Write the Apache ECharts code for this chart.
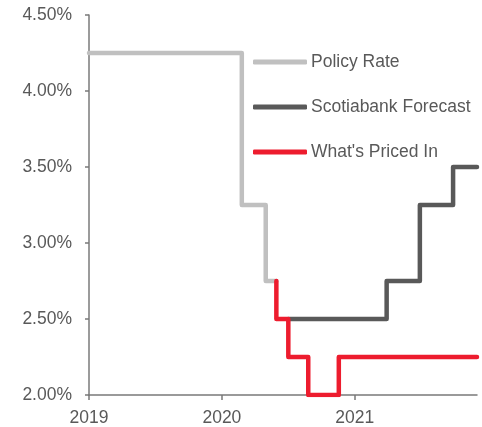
<!DOCTYPE html>
<html>
    <head>
        <meta charset="utf-8">
        <script src="https://cdn.jsdelivr.net/npm/echarts@6/dist/echarts.min.js"></script>
        <style>
            body {
                margin: 0;
                background: #fff;
            }
            #main {
                width: 482px;
                height: 427px;
            }
        </style>
    </head>
    <body>
        <div id="main"></div>

        <script>
        // x values are decimal years; each point is where a new rate level begins
        const policyRate = [[2019, 4.25], [2020.15, 3.25], [2020.33, 2.75], [2020.41, 2.75]];
        const scotiaForecast = [[2020.5, 2.50], [2021.24, 2.75], [2021.49, 3.25], [2021.74, 3.50], [2021.92, 3.50]];
        const pricedIn = [[2020.41, 2.75], [2020.41, 2.50], [2020.5, 2.25], [2020.65, 2.00], [2020.88, 2.25], [2021.92, 2.25]];
        const seriesNames = ['Policy Rate', 'Scotiabank Forecast', "What's Priced In"];
        const seriesColors = ['#c0c0c0', '#595959', '#ed1c2e'];
        const seriesData = [policyRate, scotiaForecast, pricedIn];

        const chart = echarts.init(document.getElementById('main'));

        const axisColor = '#7a7a7a';
        const textColor = '#595959';
        const font = 'Liberation Sans, Arial, sans-serif';

        chart.setOption({
            animation: false,
            grid: {
                left: 89,
                right: 5,
                top: 15,
                bottom: 31
            },
            legend: {
                orient: 'vertical',
                left: 253,
                top: 53,
                padding: 0,
                itemWidth: 54,
                itemHeight: 5,
                itemGap: 27,
                icon: 'roundRect',
                textStyle: {
                    color: textColor,
                    fontSize: 17.5,
                    fontFamily: font,
                    padding: [0, 0, 0, -1]
                },
                data: seriesNames
            },
            xAxis: {
                type: 'value',
                min: 2019,
                max: 2021.92,
                interval: 1,
                splitLine: { show: false },
                axisLine: { lineStyle: { color: axisColor, width: 1.5 } },
                axisTick: { length: 5, lineStyle: { color: axisColor, width: 1.5 } },
                axisLabel: {
                    color: textColor,
                    fontSize: 17.5,
                    fontFamily: font,
                    margin: 14,
                    showMaxLabel: false,
                    formatter: function (v) { return String(Math.round(v)); }
                }
            },
            yAxis: {
                type: 'value',
                min: 2,
                max: 4.5,
                interval: 0.5,
                splitLine: { show: false },
                axisLine: { show: true, lineStyle: { color: axisColor, width: 1.5 } },
                axisTick: { show: true, length: 4, lineStyle: { color: axisColor, width: 1.5 } },
                axisLabel: {
                    color: textColor,
                    fontSize: 17.5,
                    fontFamily: font,
                    margin: 17,
                    formatter: function (v) { return v.toFixed(2) + '%'; }
                }
            },
            series: seriesNames.map(function (name, i) {
                return {
                    name: name,
                    type: 'line',
                    step: 'end',
                    data: seriesData[i],
                    symbol: 'none',
                    z: 2 + i,
                    itemStyle: { color: seriesColors[i] },
                    lineStyle: { color: seriesColors[i], width: 4.5, join: 'round', cap: 'round' }
                };
            })
        });
        </script>
    </body>
</html>
